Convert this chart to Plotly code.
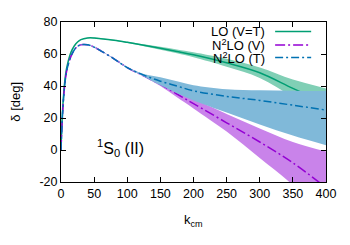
import plotly.graph_objects as go

k = [0, 2, 4, 6, 8, 10, 15, 20, 25, 30, 40, 50, 60, 80, 100, 125, 150, 175, 200, 250, 300, 350, 400]

lo_c = [0, 22, 35, 44, 50, 54, 61, 65, 67.5, 69, 70, 70, 69.6, 68.6, 67.3, 65.5, 63.6, 61.6, 59.5, 54.5, 48.3, 38.5, 29]
lo_up = [0, 22, 35, 44, 50, 54, 61, 65, 67.6, 69.1, 70.2, 70.3, 69.9, 68.9, 67.7, 66.1, 64.5, 62.8, 61.1, 57, 51.5, 44, 38.5]
lo_lo = [0, 22, 35, 44, 50, 54, 61, 65, 67.4, 68.9, 69.8, 69.7, 69.3, 68.3, 66.9, 64.9, 62.7, 60.4, 57.9, 52, 45, 33, 20]

v_c = [0, 20, 33, 42, 48, 52, 58.5, 62.5, 64.8, 65.8, 65.8, 64.3, 62, 57, 51.5, 46.3, 41, 35, 29, 17, 5, -8, -23.5]
v_up = [0, 20, 33, 42, 48, 52, 58.5, 62.5, 64.9, 65.9, 66, 64.5, 62.2, 57.3, 51.8, 46.8, 42, 37, 32, 22.5, 13.5, 5, -1]
v_lo = [0, 20, 33, 42, 48, 52, 58.5, 62.5, 64.7, 65.7, 65.6, 64.1, 61.8, 56.7, 51.2, 45.8, 40, 33, 26, 11.5, -5, -22, -44]

t_c = [0, 20, 33, 42, 48, 52, 58.5, 62.5, 64.8, 65.8, 65.8, 64.3, 62, 57, 51.5, 46.8, 43, 40, 37, 33.5, 31, 28, 25]
t_up = [0, 20, 33, 42, 48, 52, 58.5, 62.5, 64.9, 65.9, 66, 64.5, 62.2, 57.3, 51.8, 47.5, 45.5, 43, 40.5, 38, 37.3, 37, 36.8]
t_lo = [0, 20, 33, 42, 48, 52, 58.5, 62.5, 64.7, 65.7, 65.6, 64.1, 61.8, 56.7, 51.2, 46, 40.5, 35.5, 31, 23.5, 16, 9, 3]

x_ticks = [0, 50, 100, 150, 200, 250, 300, 350, 400]
y_ticks = [-20, 0, 20, 40, 60, 80]

labels = ["LO (V=T)", "N<sup>2</sup>LO (V)", "N<sup>2</sup>LO (T)"]

GREEN, GREEN_F = "#009e73", "#80cfb5"
PURPLE, PURPLE_F = "#9400d3", "#c983ea"
BLUE, BLUE_F = "#0072b2", "#80b9d9"
FONT = "Liberation Sans, Arial, sans-serif"

fig = go.Figure()

def band(up, lo, fillc):
    fig.add_trace(go.Scatter(x=k, y=up, mode="lines", line=dict(width=0, color=fillc, shape="spline"),
                             showlegend=False, hoverinfo="skip"))
    fig.add_trace(go.Scatter(x=k, y=lo, mode="lines", line=dict(width=0, color=fillc, shape="spline"),
                             fill="tonexty", fillcolor=fillc, showlegend=False, hoverinfo="skip"))

def line(y, color, dash):
    fig.add_trace(go.Scatter(x=k, y=y, mode="lines", line=dict(width=1.5, color=color, dash=dash, shape="spline"),
                             showlegend=False))

band(lo_up, lo_lo, GREEN_F)
line(lo_c, GREEN, "solid")
band(v_up, v_lo, PURPLE_F)
line(v_c, PURPLE, "10px,3px,2px,3px")
band(t_up, t_lo, BLUE_F)
line(t_c, BLUE, "8px,3px,2px,3px")

axis_common = dict(showline=True, linecolor="black", linewidth=1, mirror="ticks", ticks="inside",
                   ticklen=5, tickcolor="black", showgrid=False, zeroline=False,
                   tickfont=dict(family=FONT, size=12.5, color="black"))

fig.update_xaxes(range=[0, 400], tickvals=x_ticks, ticktext=[str(v) for v in x_ticks], **axis_common)
fig.update_yaxes(range=[-20, 80], tickvals=y_ticks, ticktext=[str(v) for v in y_ticks], **axis_common)

annotations = [
    dict(text="δ [deg]", x=-0.175, y=0.5, xref="paper", yref="paper", textangle=-90, showarrow=False,
         xanchor="center", yanchor="middle", font=dict(family=FONT, size=13, color="black")),
    dict(text="k<sub>cm</sub>", x=0.5, y=-0.24, xref="paper", yref="paper", showarrow=False,
         xanchor="center", yanchor="middle", font=dict(family=FONT, size=13, color="black")),
    dict(text="<sup>1</sup>S<sub>0</sub> (II)", x=90, y=1, xref="x", yref="y", showarrow=False,
         xanchor="center", yanchor="middle", font=dict(family=FONT, size=16, color="black")),
]
shapes = []
leg_y = [0.94, 0.856, 0.778]
leg_colors = [GREEN, PURPLE, BLUE]
leg_dash = ["solid", "10px,3px,2px,3px", "8px,3px,2px,3px"]
for lab, yy, c, d in zip(labels, leg_y, leg_colors, leg_dash):
    annotations.append(dict(text=lab, x=0.778, y=yy, xref="paper", yref="paper", xanchor="right",
                            yanchor="middle", showarrow=False, font=dict(family=FONT, size=13, color="black")))
    shapes.append(dict(type="line", xref="paper", yref="paper", x0=0.808, x1=0.944, y0=yy, y1=yy,
                       line=dict(color=c, width=1.5, dash=d)))

fig.update_layout(width=342, height=237, margin=dict(l=52.5, r=24, t=7, b=63, pad=0),
                  paper_bgcolor="white", plot_bgcolor="white",
                  annotations=annotations, shapes=shapes, showlegend=False,
                  font=dict(family=FONT, color="black"))

fig.write_html("out.html")
